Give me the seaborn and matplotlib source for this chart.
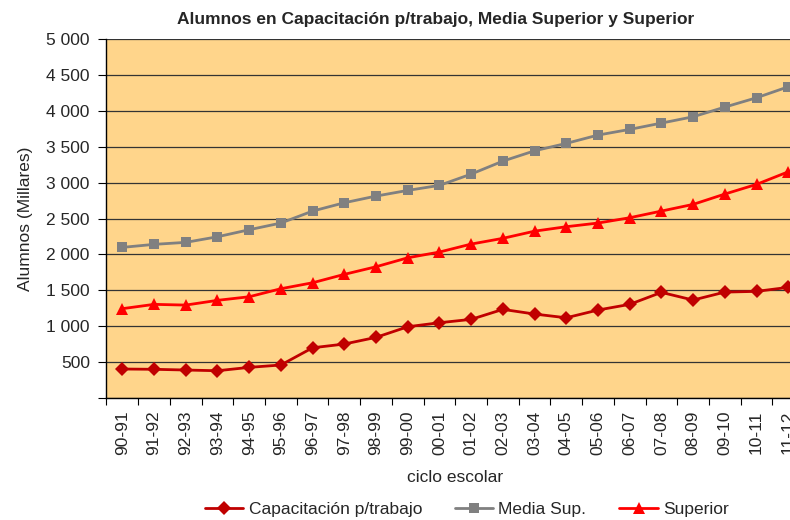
import numpy as np
import matplotlib.pyplot as plt
import matplotlib.ticker as mticker
from matplotlib.lines import Line2D
import pandas as pd
import seaborn as sns

ciclos = ["90-91", "91-92", "92-93", "93-94", "94-95", "95-96", "96-97", "97-98",
          "98-99", "99-00", "00-01", "01-02", "02-03", "03-04", "04-05", "05-06",
          "06-07", "07-08", "08-09", "09-10", "10-11", "11-12"]
capacitacion = [404, 400, 390, 380, 427, 460, 700, 752, 845, 993, 1049, 1096,
                1235, 1170, 1118, 1226, 1305, 1472, 1365, 1476, 1486, 1542]
media_sup = [2099, 2141, 2169, 2247, 2345, 2438, 2605, 2721, 2814, 2893, 2963, 3120,
             3301, 3445, 3548, 3664, 3743, 3831, 3919, 4054, 4184, 4337]
superior = [1245, 1305, 1295, 1361, 1411, 1523, 1606, 1723, 1829, 1954, 2034, 2145,
            2225, 2325, 2387, 2438, 2512, 2605, 2698, 2842, 2977, 3152]

series = ["Capacitación p/trabajo", "Media Sup.", "Superior"]
colores = {"Capacitación p/trabajo": "#C00000", "Media Sup.": "#808080", "Superior": "#FF0000"}
marcadores = {"Capacitación p/trabajo": "D", "Media Sup.": "s", "Superior": "^"}
tam_marcador = {"D": 7, "s": 7, "^": 8.5}

n = len(ciclos)
df = pd.DataFrame({
    "idx": list(range(n)) * 3,
    "valor": capacitacion + media_sup + superior,
    "serie": [series[0]] * n + [series[1]] * n + [series[2]] * n,
})

sns.set_theme(style="white")
plt.rcParams['font.family'] = ['Liberation Sans', 'DejaVu Sans']
fs = 12.5

fig = plt.figure(figsize=(7.9, 5.2), dpi=100)
ax = fig.add_axes([0.1348, 0.2346, 0.883, 0.690])
ax.set_facecolor("#FFD58B")

sns.lineplot(data=df, x="idx", y="valor", hue="serie", style="serie",
             palette=colores, markers=marcadores, dashes=False, linewidth=2,
             markersize=7, markeredgewidth=0, legend=False, ax=ax, zorder=3)
for ln in ax.lines:
    m = ln.get_marker()
    if m in tam_marcador:
        ln.set_markersize(tam_marcador[m])

ax.set_xlim(-0.5, n - 0.5)
ax.set_ylim(0, 5000)
ax.set_yticks(np.arange(0, 5001, 500))
ax.yaxis.set_major_formatter(mticker.FuncFormatter(
    lambda v, p: "" if v == 0 else "{:,.0f}".format(v).replace(",", " ")))
ax.grid(axis="y", color="#333333", linewidth=0.9)
ax.set_axisbelow(True)

ax.set_xticks(range(n))
ax.set_xticklabels(ciclos, rotation=90, fontsize=fs)
ax.set_xticks(np.arange(-0.5, n, 1), minor=True)
ax.tick_params(axis="x", which="major", length=0, pad=9)
ax.tick_params(axis="x", which="minor", length=5, width=0.8, color="black", bottom=True)
ax.tick_params(axis="y", length=6, width=0.8, color="black", left=True, labelsize=fs, pad=6)

for s in ["top", "right"]:
    ax.spines[s].set_visible(False)
for s in ["left", "bottom"]:
    ax.spines[s].set_color("black")
    ax.spines[s].set_linewidth(1)

ax.set_xlabel("ciclo escolar", fontsize=fs)
ax.set_ylabel("Alumnos (Millares)", fontsize=fs)
ax.xaxis.set_label_coords(0.5, -0.2)
ax.yaxis.set_label_coords(-0.106, 0.5)

fig.text(0.551, 0.962, "Alumnos en Capacitación p/trabajo, Media Superior y Superior",
         ha="center", va="center", fontsize=fs, fontweight="bold")

handles = [Line2D([], [], color=colores[s], marker=marcadores[s],
                  markersize=tam_marcador[marcadores[s]], markeredgewidth=0, linewidth=2)
           for s in series]
fig.legend(handles, series, loc="center", bbox_to_anchor=(0.591, 0.02), ncol=3,
           frameon=False, fontsize=fs, handlelength=2.2, columnspacing=1.9,
           handletextpad=0.3)

fig.savefig("out.png", dpi=100)
